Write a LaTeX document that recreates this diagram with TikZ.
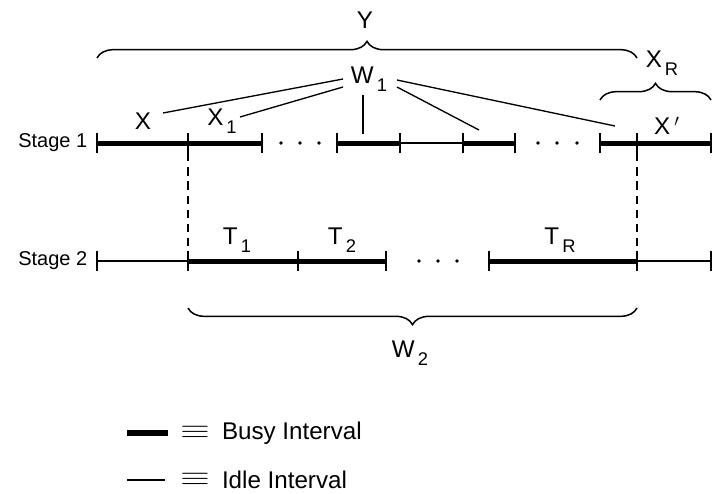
\documentclass[tikz,border=0pt]{standalone}
\usepackage{fontspec}
\setmainfont{Liberation Sans}
\usetikzlibrary{decorations.pathreplacing}

\newcommand{\lsub}[2]{#1\raisebox{-0.6ex}{\fontsize{11}{11}\selectfont\,#2}}

\tikzset{
  busy/.style={line width=3pt},
  idle/.style={line width=0.9pt},
  tickmark/.style={line width=1pt},
  guide/.style={line width=1pt, dash pattern=on 5pt off 3.5pt},
  pointer/.style={line width=0.8pt},
  brc/.style={line width=0.9pt, decorate, decoration={brace, amplitude=10pt}},
  lab/.style={font=\fontsize{14.5}{16}\selectfont, inner sep=1pt},
  stage/.style={font=\fontsize{12}{14}\selectfont, anchor=west, inner sep=0pt},
  eqv/.style={font=\fontsize{14}{16}\selectfont, inner sep=0pt},
}

\begin{document}
\begin{tikzpicture}[x=0.6pt, y=-0.6pt]
  \useasboundingbox (0,0) rectangle (712,493);

  % stage 1 time line
  \node[stage] (st1) at (18,143) {Stage 1};
  \coordinate (a1) at (97,143);
  \coordinate (a2) at (188,143);
  \coordinate (a3) at (262,143);
  \coordinate (a4) at (337,143);
  \coordinate (a5) at (400,143);
  \coordinate (a6) at (463,143);
  \coordinate (a7) at (515,143);
  \coordinate (a8) at (600,143);
  \coordinate (a9) at (637,143);
  \coordinate (a10) at (711,143);

  \draw[busy] (a1) -- (a2) -- (a3);
  \draw[busy] (a4) -- (a5);
  \draw[idle] (a5) -- (a6);
  \draw[busy] (a6) -- (a7);
  \draw[busy] (a8) -- (a9) -- (a10);
  \foreach \i in {1,...,10}
    \draw[tickmark] ([yshift=6pt]a\i) -- ([yshift=-6pt]a\i);
  \foreach \x in {281,300,319,538,557,577}
    \fill (\x,143) circle (1.1pt);

  % stage 2 time line
  \node[stage] (st2) at (18,261) {Stage 2};
  \coordinate (b1) at (97,261);
  \coordinate (b2) at (188,261);
  \coordinate (b3) at (298,261);
  \coordinate (b4) at (386,261);
  \coordinate (b5) at (489,261);
  \coordinate (b6) at (637,261);
  \coordinate (b7) at (711,261);

  \draw[idle] (b1) -- (b2);
  \draw[busy] (b2) -- (b3) -- (b4);
  \draw[busy] (b5) -- (b6);
  \draw[idle] (b6) -- (b7);
  \foreach \i in {1,...,7}
    \draw[tickmark] ([yshift=6pt]b\i) -- ([yshift=-6pt]b\i);
  \foreach \x in {419,438,457}
    \fill (\x,261) circle (1.1pt);

  % dashed guides
  \draw[guide] ([yshift=-6pt]a2) -- ([yshift=6pt]b2);
  \draw[guide] ([yshift=-6pt]a9) -- ([yshift=6pt]b6);

  % labels
  \node[lab] (x) at (143,121) {X};
  \node[lab] (x1) at (222,121) {\lsub{X}{1}};
  \node[lab] (xp) at (667,126) {X\,$'$};
  \node[lab] (t1) at (237,240) {\lsub{T}{1}};
  \node[lab] (t2) at (342,240) {\lsub{T}{2}};
  \node[lab] (tr) at (560,240) {\lsub{T}{R}};
  \node[lab] (w1) at (369,79) {\lsub{W}{1}};
  \node[lab] (y) at (365,20) {Y};
  \node[lab] (xr) at (662,63) {\lsub{X}{R}};
  \node[lab] (w2) at (410,353) {\lsub{W}{2}};

  % braces
  \draw[brc] (97,58) -- (637,58);
  \draw[brc] (600,100) -- (711,100);
  \draw[brc] (637,308) -- (188,308);

  % pointers from W1
  \coordinate (p1) at (343,79);
  \coordinate (p2) at (343,87);
  \coordinate (p3) at (363,95);
  \coordinate (p4) at (397,80);
  \coordinate (p5) at (397,87);
  \coordinate (q1) at (163,113);
  \coordinate (q2) at (240,117);
  \coordinate (q3) at (363,134);
  \coordinate (q4) at (615,126);
  \coordinate (q5) at (479,130);
  \draw[pointer] (p1) -- (q1);
  \draw[pointer] (p2) -- (q2);
  \draw[pointer] (p3) -- (q3);
  \draw[pointer] (p4) -- (q4);
  \draw[pointer] (p5) -- (q5);

  % legend
  \coordinate (l1) at (127,433);
  \coordinate (l2) at (168,433);
  \coordinate (l3) at (127,480);
  \coordinate (l4) at (165,480);
  \draw[line width=3.2pt] (l1) -- (l2);
  \draw[idle] (l3) -- (l4);
  \node[eqv] (eq1) at (195,432) {\scalebox{1.6}[1.1]{$\equiv$}};
  \node[eqv] (eq2) at (195,479) {\scalebox{1.6}[1.1]{$\equiv$}};
  \node[lab, anchor=west] (busyl) at (220,433) {Busy Interval};
  \node[lab, anchor=west] (idlel) at (220,480) {Idle Interval};
\end{tikzpicture}
\end{document}
